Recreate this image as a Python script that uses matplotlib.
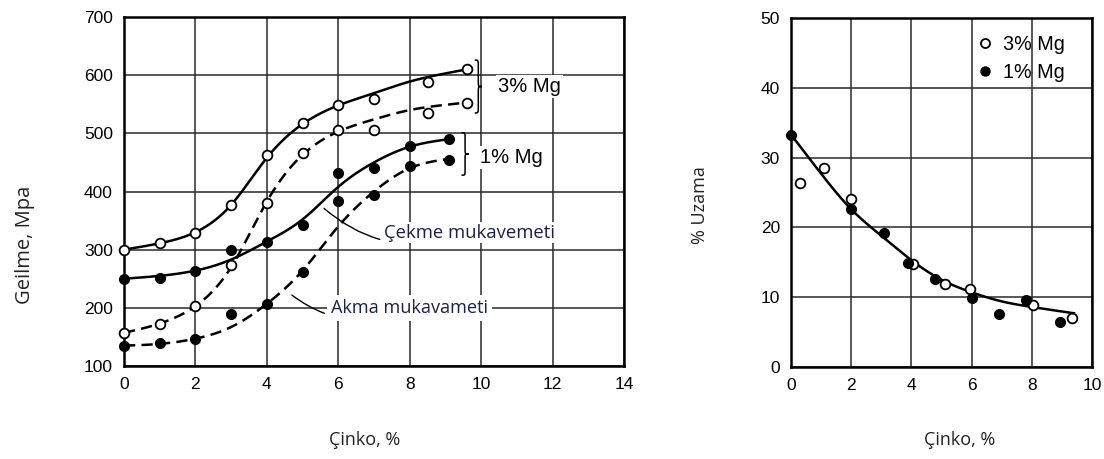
import numpy as np
import matplotlib
matplotlib.use('Agg')
import matplotlib.pyplot as plt
from matplotlib.path import Path
from matplotlib.patches import PathPatch

# ---------------- Left chart: strength vs zinc ----------------
zn_3mg = [0, 1, 2, 3, 4, 5, 6, 7, 8.5, 9.6]
tensile_3mg = [300, 311, 329, 377, 462, 518, 549, 559, 588, 610]
yield_3mg = [156, 173, 203, 273, 381, 466, 506, 506, 535, 553]
zn_1mg = [0, 1, 2, 3, 4, 5, 6, 7, 8, 9.1]
tensile_1mg = [250, 251, 264, 300, 314, 343, 432, 441, 479, 490]
yield_1mg = [134, 139, 146, 190, 207, 262, 383, 394, 443, 455]

# fitted curves
fit_zn_3mg = [0, 1, 2, 3, 4, 5, 6, 7, 8, 9, 9.6]
fit_tensile_3mg = [300, 311, 330, 377, 458, 516, 548, 569, 589, 603, 610]
fit_yield_3mg = [157, 173, 203, 270, 383, 463, 503, 524, 540, 549, 553]
fit_zn_1mg = [0, 1, 2, 3, 4, 5, 6, 7, 8, 9.1]
fit_tensile_1mg = [250, 255, 264, 283, 314, 352, 408, 450, 477, 490]
fit_yield_1mg = [135, 138, 147, 167, 207, 264, 340, 400, 440, 456]

# ---------------- Right chart: elongation vs zinc ----------------
el_zn_3mg = [0.3, 1.1, 2.0, 4.05, 5.1, 5.95, 8.05, 9.35]
el_3mg = [26.3, 28.5, 24.0, 14.8, 11.9, 11.2, 8.9, 7.0]
el_zn_1mg = [0, 2.0, 3.1, 3.9, 4.8, 6.0, 6.9, 7.8, 8.95]
el_1mg = [33.3, 22.6, 19.2, 14.9, 12.6, 9.9, 7.6, 9.6, 6.4]
fit_el_zn = [0, 1, 2, 3, 4, 5, 6, 7, 8, 9.4]
fit_el = [33.3, 27.7, 22.6, 18.8, 15.3, 12.5, 10.7, 9.4, 8.6, 7.7]

left_xticks = [0, 2, 4, 6, 8, 10, 12, 14]
left_yticks = [100, 200, 300, 400, 500, 600, 700]
right_xticks = [0, 2, 4, 6, 8, 10]
right_yticks = [0, 10, 20, 30, 40, 50]

TICKFONT = ['Liberation Sans Narrow', 'Liberation Sans', 'DejaVu Sans']
LABELFONT = ['Open Sans', 'DejaVu Sans']
NOTEFONT = ['Liberation Sans', 'DejaVu Sans']


def spline(x, y, xs):
    """Natural cubic spline through the curve knots."""
    x = np.asarray(x, float)
    y = np.asarray(y, float)
    n = len(x)
    h = np.diff(x)
    A = np.zeros((n, n))
    b = np.zeros(n)
    A[0, 0] = 1.0
    A[-1, -1] = 1.0
    for i in range(1, n - 1):
        A[i, i - 1] = h[i - 1]
        A[i, i] = 2 * (h[i - 1] + h[i])
        A[i, i + 1] = h[i]
        b[i] = 6 * ((y[i + 1] - y[i]) / h[i] - (y[i] - y[i - 1]) / h[i - 1])
    M = np.linalg.solve(A, b)
    xs = np.asarray(xs, float)
    idx = np.clip(np.searchsorted(x, xs) - 1, 0, n - 2)
    x0, x1 = x[idx], x[idx + 1]
    hh = x1 - x0
    return (M[idx] * (x1 - xs) ** 3 / (6 * hh) + M[idx + 1] * (xs - x0) ** 3 / (6 * hh)
            + (y[idx] / hh - M[idx] * hh / 6) * (x1 - xs)
            + (y[idx + 1] / hh - M[idx + 1] * hh / 6) * (xs - x0))


def brace(ax, xb, y_bot, y_top, w, lw=1.1):
    ym = 0.5 * (y_bot + y_top)
    H = y_top - y_bot
    xm = xb + 0.5 * w
    verts = [(xb, y_top), (xm, y_top), (xm, y_top), (xm, y_top - 0.12 * H),
             (xm, ym + 0.12 * H),
             (xm, ym), (xm, ym), (xb + w, ym),
             (xm, ym), (xm, ym), (xm, ym - 0.12 * H),
             (xm, y_bot + 0.12 * H),
             (xm, y_bot), (xm, y_bot), (xb, y_bot)]
    codes = [Path.MOVETO, Path.CURVE4, Path.CURVE4, Path.CURVE4,
             Path.LINETO,
             Path.CURVE4, Path.CURVE4, Path.CURVE4,
             Path.CURVE4, Path.CURVE4, Path.CURVE4,
             Path.LINETO,
             Path.CURVE4, Path.CURVE4, Path.CURVE4]
    ax.add_patch(PathPatch(Path(verts, codes), fill=False, lw=lw, color='black', zorder=5))


def style_axes(ax, xt, yt):
    ax.set_xticks(xt)
    ax.set_yticks(yt)
    ax.grid(True, color='#2a2a2a', lw=1.1)
    ax.set_axisbelow(True)
    for s in ax.spines.values():
        s.set_linewidth(1.8)
        s.set_color('black')
    ax.tick_params(length=0, pad=8, labelsize=12.5)
    for lab in ax.get_xticklabels() + ax.get_yticklabels():
        lab.set_family(TICKFONT)


fig = plt.figure(figsize=(11.04, 4.59), dpi=100)

# ---------------- Left axes ----------------
ax1 = fig.add_axes([124 / 1104, 1 - 366 / 459, (624 - 124) / 1104, (366 - 17) / 459])
ax1.set_xlim(0, 14)
ax1.set_ylim(100, 700)
style_axes(ax1, left_xticks, left_yticks)

DASH = (0, (4.5, 2.5))
xs3 = np.linspace(fit_zn_3mg[0], fit_zn_3mg[-1], 400)
xs1 = np.linspace(fit_zn_1mg[0], fit_zn_1mg[-1], 400)
ax1.plot(xs3, spline(fit_zn_3mg, fit_tensile_3mg, xs3), color='black', lw=1.8, zorder=3)
ax1.plot(xs3, spline(fit_zn_3mg, fit_yield_3mg, xs3), color='black', lw=1.8, ls=DASH, zorder=3)
ax1.plot(xs1, spline(fit_zn_1mg, fit_tensile_1mg, xs1), color='black', lw=1.8, zorder=3)
ax1.plot(xs1, spline(fit_zn_1mg, fit_yield_1mg, xs1), color='black', lw=1.8, ls=DASH, zorder=3)

open_kw = dict(ls='none', marker='o', ms=7, mfc='white', mec='black', mew=1.3, zorder=6, clip_on=False)
fill_kw = dict(ls='none', marker='o', ms=7, mfc='black', mec='black', mew=1.0, zorder=6, clip_on=False)
ax1.plot(zn_3mg, tensile_3mg, **open_kw)
ax1.plot(zn_3mg, yield_3mg, **open_kw)
ax1.plot(zn_1mg, tensile_1mg, **fill_kw)
ax1.plot(zn_1mg, yield_1mg, **fill_kw)

# braces and group labels
brace(ax1, 9.82, yield_3mg[-1] - 18, tensile_3mg[-1] + 16, 0.2)
brace(ax1, 9.45, yield_1mg[-1] - 27, tensile_1mg[-1] + 11, 0.2)
ax1.text(10.47, 581, '3% Mg', family=NOTEFONT, fontsize=14.5, va='center', ha='left',
         bbox=dict(facecolor='white', edgecolor='none', pad=1.5), zorder=4)
ax1.text(9.97, 459, '1% Mg', family=NOTEFONT, fontsize=14.5, va='center', ha='left',
         bbox=dict(facecolor='white', edgecolor='none', pad=1.5), zorder=4)

note_color = '#1c1f4a'
ax1.annotate('Çekme mukavemeti', xy=(5.6, 371), xytext=(7.28, 329), family=LABELFONT,
             fontsize=13.3, color=note_color, va='center', ha='left',
             bbox=dict(facecolor='white', edgecolor='none', pad=1.0),
             arrowprops=dict(arrowstyle='-', color='black', lw=1.0,
                             connectionstyle='arc3,rad=-0.3', shrinkA=2, shrinkB=0),
             zorder=4)
ax1.annotate('Akma mukavameti', xy=(4.7, 222), xytext=(5.8, 200), family=LABELFONT,
             fontsize=13.1, color=note_color, va='center', ha='left',
             bbox=dict(facecolor='white', edgecolor='none', pad=3.0),
             arrowprops=dict(arrowstyle='-', color='black', lw=1.0,
                             connectionstyle='arc3,rad=-0.3', shrinkA=2, shrinkB=0),
             zorder=4)

fig.text(25 / 1104, 1 - 245 / 459, 'Geilme, Mpa', rotation=90, ha='center', va='center',
         family=LABELFONT, fontsize=14.5, color='#222222')
fig.text(365 / 1104, 1 - 440 / 459, 'Çinko, %', ha='center', va='center',
         family=LABELFONT, fontsize=13, color='#222222')

# ---------------- Right axes ----------------
ax2 = fig.add_axes([791 / 1104, 1 - 367 / 459, (1092 - 791) / 1104, (367 - 18) / 459])
ax2.set_xlim(0, 10)
ax2.set_ylim(0, 50)
style_axes(ax2, right_xticks, right_yticks)

xse = np.linspace(fit_el_zn[0], fit_el_zn[-1], 300)
ax2.plot(xse, spline(fit_el_zn, fit_el, xse), color='black', lw=1.8, zorder=3)
h3 = ax2.plot(el_zn_3mg, el_3mg, **open_kw)[0]
h1 = ax2.plot(el_zn_1mg, el_1mg, **fill_kw)[0]
leg = ax2.legend([h3, h1], ['3% Mg', '1% Mg'], loc='upper right', bbox_to_anchor=(0.955, 0.99),
                 frameon=False, handlelength=0.8, handletextpad=0.5, labelspacing=0.42,
                 borderaxespad=0.3, prop={'family': NOTEFONT, 'size': 14.2})
for lh in leg.legend_handles:
    lh.set_markersize(6.5)

fig.text(700 / 1104, 1 - 205 / 459, '% Uzama', rotation=90, ha='center', va='center',
         family=LABELFONT, fontsize=13, color='#222222')
fig.text(960 / 1104, 1 - 440 / 459, 'Çinko, %', ha='center', va='center',
         family=LABELFONT, fontsize=13, color='#222222')

fig.savefig('out.png', dpi=100, facecolor='white')
